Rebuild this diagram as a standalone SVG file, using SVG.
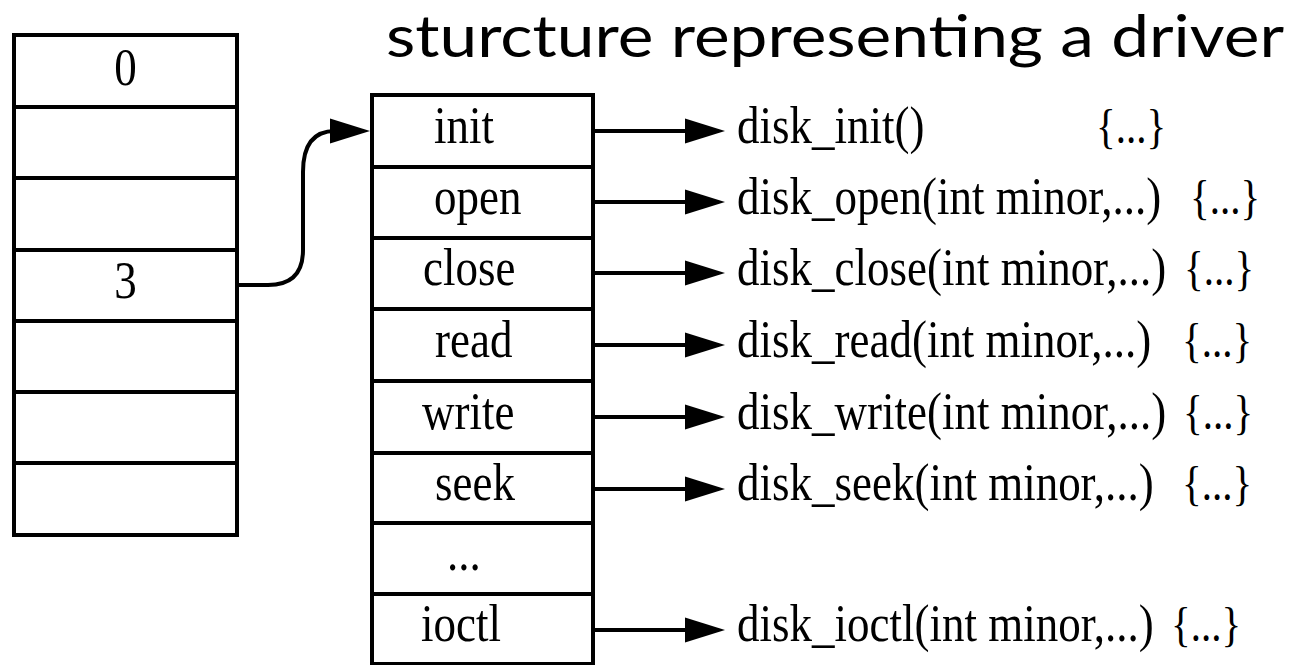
<svg xmlns="http://www.w3.org/2000/svg" width="1301" height="665" viewBox="0 0 1301 665">
<style>
.box{fill:#fff;stroke:#000;stroke-width:4}
.ln{stroke:#000;stroke-width:4;fill:none}
.t{font-family:"Liberation Serif","Times New Roman",serif;font-size:45px;fill:#000}
.br{font-family:"Liberation Serif","Times New Roman",serif;font-size:41px;fill:#000;font-variant-ligatures:none}
.title{font-family:Lato,"Open Sans",sans-serif;font-size:59px;fill:#000}
</style>
<defs>
<marker id="ah" markerUnits="userSpaceOnUse" markerWidth="42" markerHeight="28" refX="15" refY="14" orient="auto">
<path d="M0,1.5 L40,14 L0,26.5 Z" fill="#000"/>
</marker>
</defs>
<rect width="1301" height="665" fill="#fff"/>
<text class="title" x="386" y="57" textLength="898" lengthAdjust="spacingAndGlyphs">sturcture representing a driver</text>
<g id="device-table">
<rect class="box" x="14" y="35" width="223" height="500"/>
<path class="ln" d="M14,107H237M14,178H237M14,250H237M14,321H237M14,392H237M14,463H237"/>
<text class="t" transform="translate(125.5,85) scale(1,1.18)" text-anchor="middle">0</text>
<text class="t" transform="translate(125.5,298) scale(1,1.18)" text-anchor="middle">3</text>
</g>
<g id="driver-struct">
<rect class="box" x="372" y="95" width="221" height="569"/>
<path class="ln" d="M372,167H593M372,238H593M372,309H593M372,381H593M372,453H593M372,523H593M372,594H593"/>
<text class="t" transform="translate(434,143) scale(1,1.18)">init</text>
<text class="t" transform="translate(434,214) scale(1,1.18)">open</text>
<text class="t" transform="translate(423,285) scale(1,1.18)">close</text>
<text class="t" transform="translate(435,357) scale(1,1.18)">read</text>
<text class="t" transform="translate(422,429) scale(1,1.18)">write</text>
<text class="t" transform="translate(435,500) scale(1,1.18)">seek</text>
<text class="t" transform="translate(447,570) scale(1,1.18)">...</text>
<text class="t" transform="translate(421,641) scale(1,1.18)">ioctl</text>
</g>
<g id="functions">
<text class="t" transform="translate(737,143) scale(1,1.18)">disk_init()</text>
<text class="br" transform="translate(1096,143) scale(1,1.18)">{...}</text>
<text class="t" transform="translate(737,214) scale(1,1.18)">disk_open(int minor,...)</text>
<text class="br" transform="translate(1190,214) scale(1,1.18)">{...}</text>
<text class="t" transform="translate(737,285) scale(1,1.18)">disk_close(int minor,...)</text>
<text class="br" transform="translate(1184,285) scale(1,1.18)">{...}</text>
<text class="t" transform="translate(737,357) scale(1,1.18)">disk_read(int minor,...)</text>
<text class="br" transform="translate(1182,357) scale(1,1.18)">{...}</text>
<text class="t" transform="translate(737,429) scale(1,1.18)">disk_write(int minor,...)</text>
<text class="br" transform="translate(1183,429) scale(1,1.18)">{...}</text>
<text class="t" transform="translate(737,500) scale(1,1.18)">disk_seek(int minor,...)</text>
<text class="br" transform="translate(1182,500) scale(1,1.18)">{...}</text>
<text class="t" transform="translate(737,641) scale(1,1.18)">disk_ioctl(int minor,...)</text>
<text class="br" transform="translate(1171,641) scale(1,1.18)">{...}</text>
</g>
<g id="connectors">
<path class="ln" d="M237,285 H268 Q303,285 303,250 V172 Q303,131 335,131 H345" marker-end="url(#ah)"/>
<path class="ln" d="M593,131H700" marker-end="url(#ah)"/>
<path class="ln" d="M593,202H700" marker-end="url(#ah)"/>
<path class="ln" d="M593,273H700" marker-end="url(#ah)"/>
<path class="ln" d="M593,345H700" marker-end="url(#ah)"/>
<path class="ln" d="M593,417H700" marker-end="url(#ah)"/>
<path class="ln" d="M593,489H700" marker-end="url(#ah)"/>
<path class="ln" d="M593,630H700" marker-end="url(#ah)"/>
</g>
</svg>
